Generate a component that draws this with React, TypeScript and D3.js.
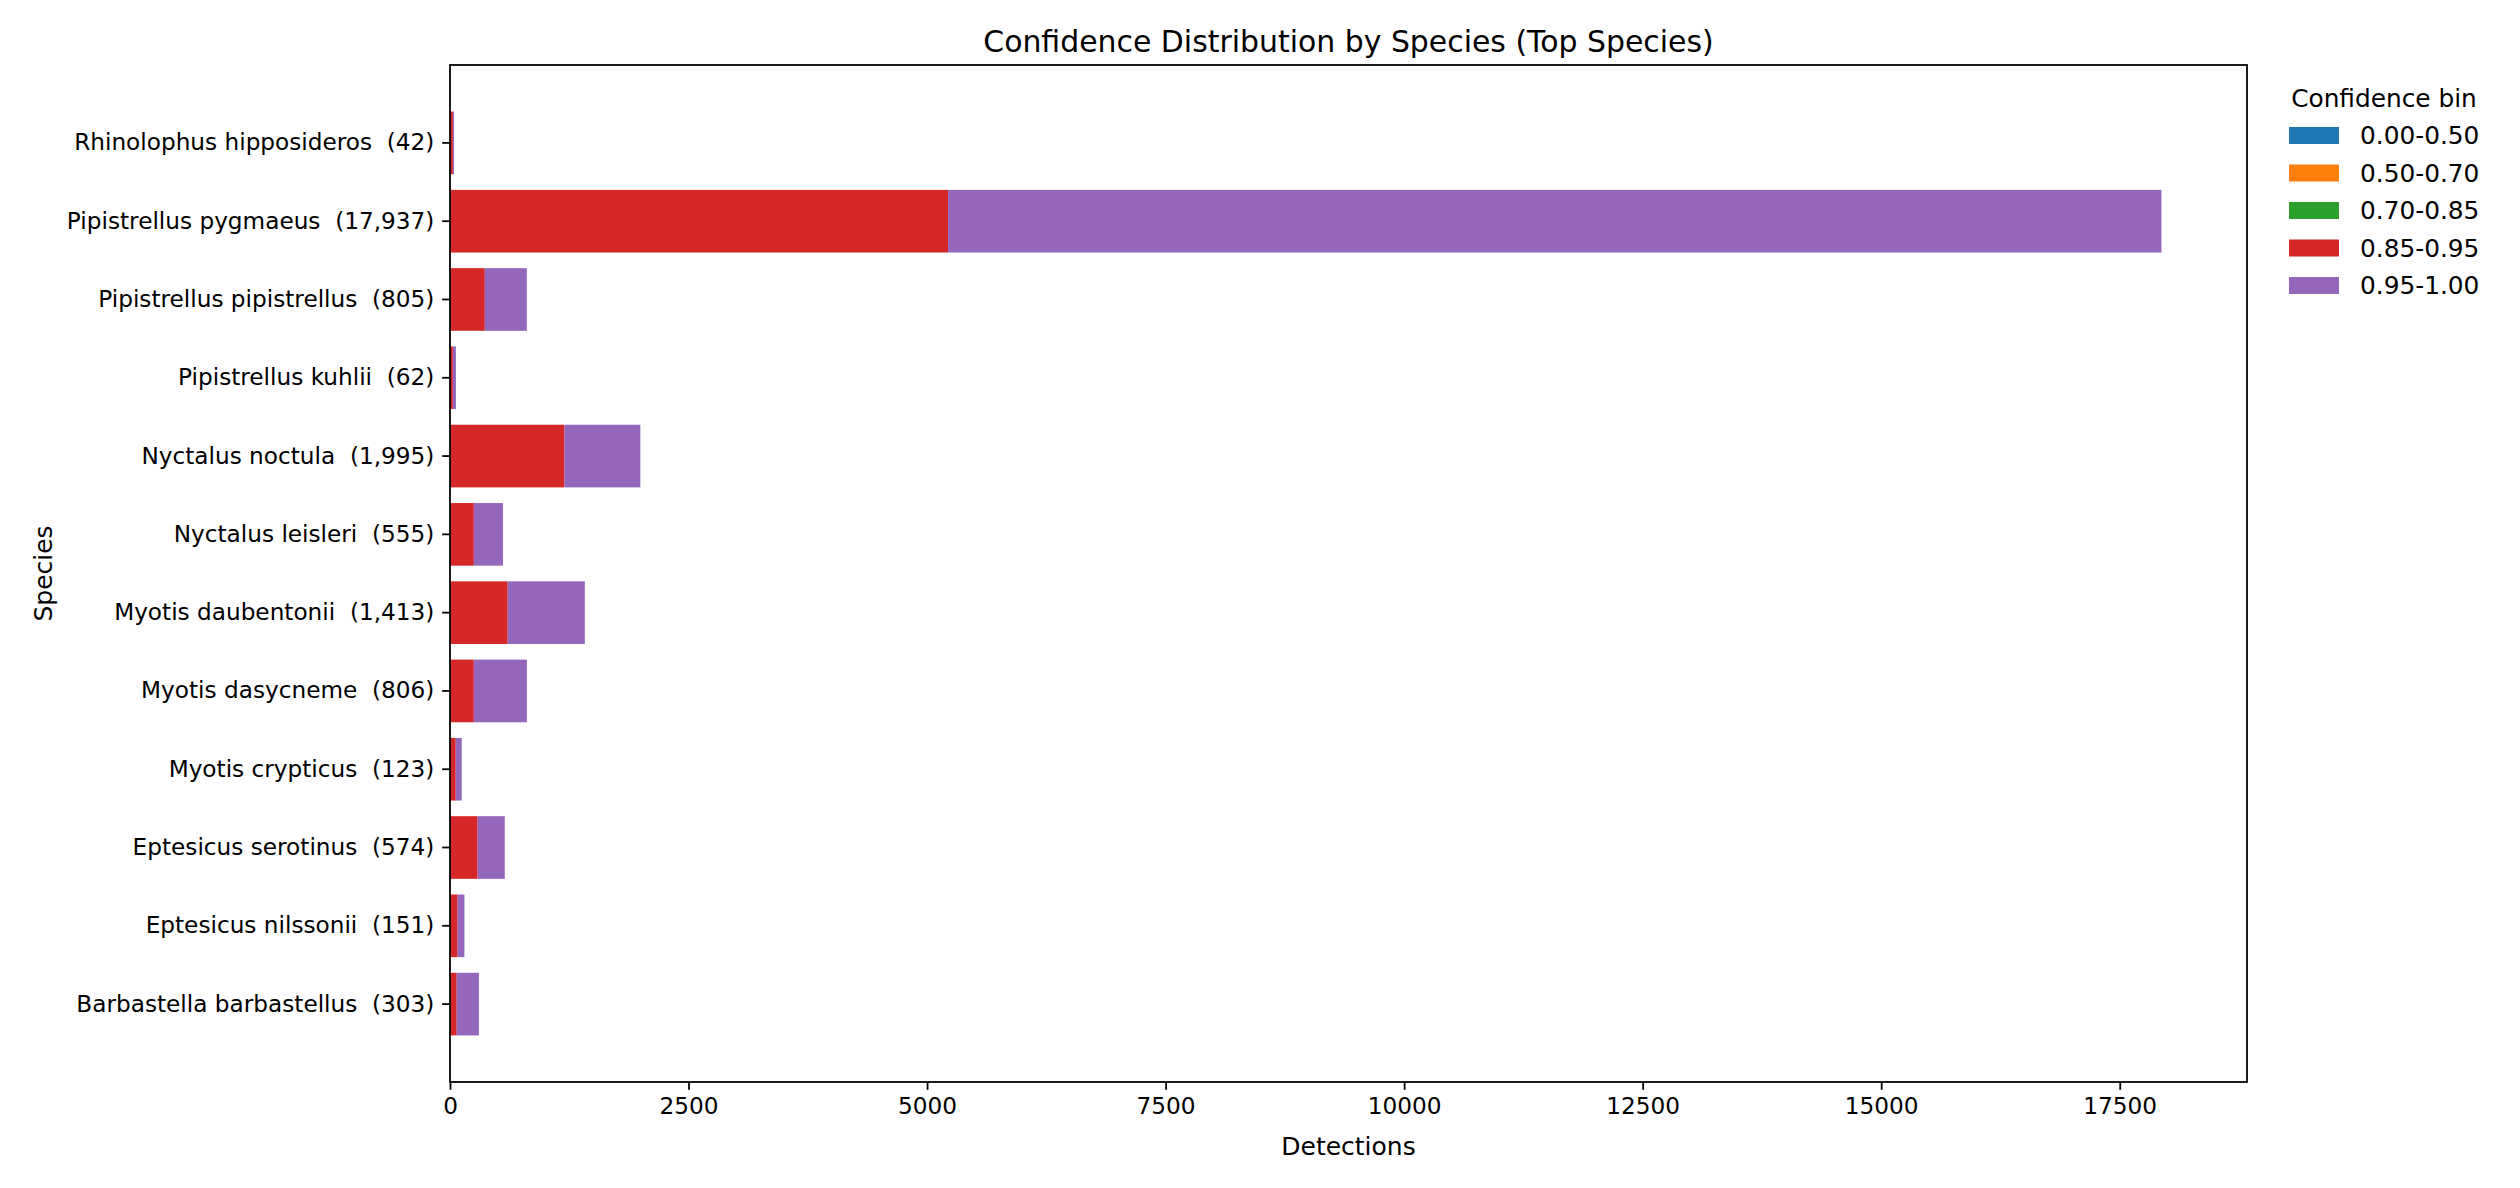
import React, { useRef, useEffect } from "react";
import * as d3 from "d3";

// species listed top to bottom as they appear on the chart
const species = [
    "Rhinolophus hipposideros",
    "Pipistrellus pygmaeus",
    "Pipistrellus pipistrellus",
    "Pipistrellus kuhlii",
    "Nyctalus noctula",
    "Nyctalus leisleri",
    "Myotis daubentonii",
    "Myotis dasycneme",
    "Myotis crypticus",
    "Eptesicus serotinus",
    "Eptesicus nilssonii",
    "Barbastella barbastellus",
];

const totals = [42, 17937, 805, 62, 1995, 555, 1413, 806, 123, 574, 151, 303];

const bins = ["0.00-0.50", "0.50-0.70", "0.70-0.85", "0.85-0.95", "0.95-1.00"];
const binColors = ["#1f77b4", "#ff7f0e", "#2ca02c", "#d62728", "#9467bd"];

// counts per bin, same order as species
const bin000 = [0, 0, 0, 0, 0, 0, 0, 0, 0, 0, 0, 0];
const bin050 = [0, 0, 0, 0, 0, 0, 0, 0, 0, 0, 0, 0];
const bin070 = [0, 0, 0, 0, 0, 0, 0, 0, 0, 0, 0, 0];
const bin085 = [30, 5220, 365, 30, 1200, 250, 605, 250, 60, 290, 80, 70];
const bin095 = [12, 12717, 440, 32, 795, 305, 808, 556, 63, 284, 71, 233];

const xTicks = [0, 2500, 5000, 7500, 10000, 12500, 15000, 17500];

const FONT = "DejaVu Sans, sans-serif";

export default function App() {
    const svgRef = useRef(null);

    useEffect(() => {
        document.body.style.margin = "0";

        const width = 2520;
        const height = 1188;
        const margin = { top: 65, right: 273, bottom: 106, left: 450 };

        const svg = d3.select(svgRef.current)
            .attr("width", width)
            .attr("height", height);

        svg.selectAll("*").remove();
        svg.append("rect").attr("width", width).attr("height", height).attr("fill", "#fff");

        const x = d3.scaleLinear()
            .domain([0, d3.max(totals)! * 1.05])
            .range([margin.left, width - margin.right]);

        const y = d3.scaleBand()
            .domain(species)
            .range([margin.top, height - margin.bottom])
            .paddingInner(0.2)
            .paddingOuter(0.595);

        const layers = [bin000, bin050, bin070, bin085, bin095];
        const rows = species.map((s, i) => {
            const row: any = { species: s };
            bins.forEach((b, j) => (row[b] = layers[j][i]));
            return row;
        });

        const stacked = d3.stack().keys(bins)(rows);

        svg.append("g")
            .selectAll("g")
            .data(stacked)
            .join("g")
            .attr("fill", (d, i) => binColors[i])
            .selectAll("rect")
            .data((d) => d)
            .join("rect")
            .attr("x", (d) => x(d[0]))
            .attr("width", (d) => Math.max(0, x(d[1]) - x(d[0])))
            .attr("y", (d: any) => y(d.data.species)!)
            .attr("height", y.bandwidth());

        // axes
        const xAxis = svg.append("g")
            .attr("transform", `translate(0,${height - margin.bottom})`)
            .call(d3.axisBottom(x).tickValues(xTicks).tickFormat(d3.format("d")).tickSize(7.8).tickPadding(7.8));

        const yAxis = svg.append("g")
            .attr("transform", `translate(${margin.left},0)`)
            .call(d3.axisLeft(y)
                .tickSize(7.8)
                .tickPadding(7.8)
                .tickFormat((d, i) => `${d}  (${d3.format(",")(totals[i])})`));

        [xAxis, yAxis].forEach((g) => {
            g.select(".domain").remove();
            g.selectAll("line").attr("stroke", "#000").attr("stroke-width", 1.78);
            g.selectAll("text")
                .attr("fill", "#000")
                .style("font-family", FONT)
                .style("font-size", "23.2px")
                .style("white-space", "pre");
        });

        // frame
        svg.append("rect")
            .attr("x", margin.left)
            .attr("y", margin.top)
            .attr("width", width - margin.right - margin.left)
            .attr("height", height - margin.bottom - margin.top)
            .attr("fill", "none")
            .attr("stroke", "#000")
            .attr("stroke-width", 1.78);

        svg.append("text")
            .attr("x", (margin.left + width - margin.right) / 2)
            .attr("y", 52)
            .attr("text-anchor", "middle")
            .style("font-family", FONT)
            .style("font-size", "29.9px")
            .text("Confidence Distribution by Species (Top Species)");

        svg.append("text")
            .attr("x", (margin.left + width - margin.right) / 2)
            .attr("y", 1155)
            .attr("text-anchor", "middle")
            .style("font-family", FONT)
            .style("font-size", "25px")
            .text("Detections");

        svg.append("text")
            .attr("transform", `translate(52,${(margin.top + height - margin.bottom) / 2}) rotate(-90)`)
            .attr("text-anchor", "middle")
            .style("font-family", FONT)
            .style("font-size", "25px")
            .text("Species");

        // legend
        const legend = svg.append("g").attr("transform", "translate(2289,0)");

        legend.append("text")
            .attr("x", 95)
            .attr("y", 107)
            .attr("text-anchor", "middle")
            .style("font-family", FONT)
            .style("font-size", "24.8px")
            .text("Confidence bin");

        bins.forEach((b, i) => {
            const cy = 135.5 + i * 37.5;
            legend.append("rect")
                .attr("x", 0)
                .attr("y", cy - 8.5)
                .attr("width", 50)
                .attr("height", 17)
                .attr("fill", binColors[i]);
            legend.append("text")
                .attr("x", 71)
                .attr("y", cy + 8.5)
                .style("font-family", FONT)
                .style("font-size", "24.8px")
                .text(b);
        });
    }, []);

    return (
        <div style={{ position: "absolute", left: 0, top: 0 }}>
            <svg ref={svgRef}></svg>
        </div>
    );
}
